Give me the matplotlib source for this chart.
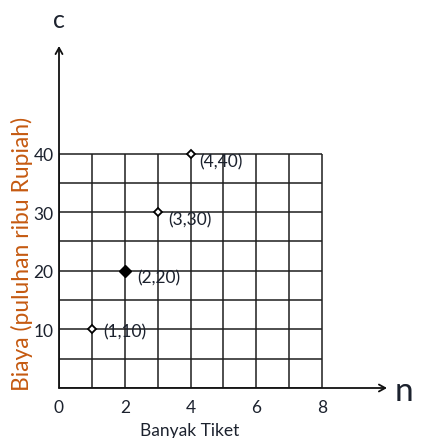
import matplotlib
matplotlib.use("Agg")
import matplotlib.pyplot as plt

# ---- data ----
n_values = [1, 2, 3, 4]
c_values = [10, 20, 30, 40]
point_labels = ["(1,10)", "(2,20)", "(3,30)", "(4,40)"]
filled = [False, True, False, False]
x_ticks = [0, 2, 4, 6, 8]
x_tick_labels = ["0", "2", "4", "6", "8"]
y_ticks = [10, 20, 30, 40]
y_tick_labels = ["10", "20", "30", "40"]
grid_x = list(range(0, 9))
grid_y = list(range(0, 45, 5))

plt.rcParams['font.family'] = ['Lato', 'DejaVu Sans']
txt_col = '#1c222e'

W, H = 422, 439
fig = plt.figure(figsize=(W / 100, H / 100), dpi=100)
# axes: x 0..8 -> px 59..322, y 0..40 -> px 389..154.5
px_x = (322 - 59) / 8.0
px_y = (389 - 154.5) / 40.0
left, right, top, bottom = 59, 387, 47, 389
ax = fig.add_axes([left / W, (H - bottom) / H, (right - left) / W, (bottom - top) / H])
ax.set_xlim(0, (right - left) / px_x)
ax.set_ylim(0, (bottom - top) / px_y)
for s in ax.spines.values():
    s.set_visible(False)

# grid
ax.vlines(grid_x, 0, max(grid_y), colors='#1e1e1e', lw=1.1)
ax.hlines(grid_y, 0, max(grid_x), colors='#1e1e1e', lw=1.1)

# axes with arrows
xmax = ax.get_xlim()[1]
ymax = ax.get_ylim()[1]
ax.annotate('', xy=(xmax, 0), xytext=(0, 0),
            arrowprops=dict(arrowstyle='->,head_length=0.45,head_width=0.25', lw=1.3, color='#111111',
                            shrinkA=0, shrinkB=0), annotation_clip=False)
ax.annotate('', xy=(0, ymax), xytext=(0, 0),
            arrowprops=dict(arrowstyle='->,head_length=0.45,head_width=0.25', lw=1.3, color='#111111',
                            shrinkA=0, shrinkB=0), annotation_clip=False)

# points
offsets = [(8, -1.5), (9, -4.5), (8, -5.5), (6.5, -6)]
for x, y, lab, f, off in zip(n_values, c_values, point_labels, filled, offsets):
    if f:
        ax.plot(x, y, marker='D', ms=6.5, color='black', zorder=5, clip_on=False)
    else:
        ax.plot(x, y, marker='D', ms=4, mfc='white', mec='black', mew=1.3, zorder=5, clip_on=False)
    ax.annotate(lab, (x, y), xytext=off, textcoords='offset points',
                ha='left', va='center', fontsize=12.5, color=txt_col)

# ticks
ax.set_xticks(x_ticks)
ax.set_xticklabels(x_tick_labels)
ax.set_yticks(y_ticks)
ax.set_yticklabels(y_tick_labels)
ax.tick_params(axis='both', length=0, labelsize=12.5, labelcolor=txt_col)
ax.tick_params(axis='x', pad=8)
ax.tick_params(axis='y', pad=4)

# labels
fig.text(22 / W, 1 - 254 / H, 'Biaya (puluhan ribu Rupiah)', rotation=90,
         ha='center', va='center', fontsize=16.5, color='#c55a11')
fig.text(190 / W, 1 - 436 / H, 'Banyak Tiket', ha='center', va='baseline',
         fontsize=12.5, color=txt_col)
fig.text(59 / W, 1 - 28 / H, 'c', ha='center', va='baseline', fontsize=18, color=txt_col)
fig.text(404 / W, 1 - 401 / H, 'n', ha='center', va='baseline', fontsize=24, color=txt_col)

fig.savefig('out.png', dpi=100)
